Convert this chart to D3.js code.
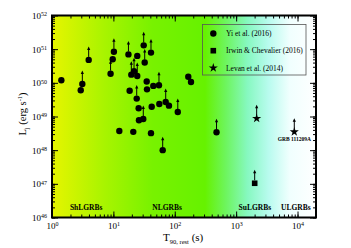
<!DOCTYPE html>
<html>
<head>
<meta charset="utf-8">
<script src="https://cdn.jsdelivr.net/npm/d3@7"></script>
<style>
  body { margin: 0; background: #fff; }
  svg { display: block; font-family: "Liberation Serif", "Times New Roman", serif; }
  .tick line { stroke: #000; }
  .domain { display: none; }
</style>
</head>
<body>
<svg width="351" height="248"></svg>
<script>
// Yi et al. (2016) sample: rest frame T90 (s), jet luminosity (erg/s), lower limit flag
var yiT = [1.42, 3.12, 2.94, 3.96, 9.0, 9.75, 10.2, 17.6, 24.5, 31.2, 41.0, 32.4,
           21.7, 19.6, 24.5, 34.9, 44.7, 55.3, 35.3, 18.4, 24.0, 166, 184, 56,
           71.2, 80.5, 42.1, 25.8, 112, 30.7, 26.1, 12.5, 21.1, 41.0, 63.6, 479];
var yiL = [1.19e50, 9.2e49, 6.0e49, 4.8e50, 1.87e50, 5.0e50, 8.4e50, 7.0e50, 6.3e50, 1.3e51, 7.9e50, 4.0e50,
           2.2e50, 1.75e50, 1.6e50, 1.1e50, 8.1e49, 8.5e49, 6.4e49, 5.8e49, 3.4e49, 1.52e50, 1.06e50, 2.35e49,
           2.7e49, 2.1e49, 1.95e49, 1.75e49, 1.36e49, 8.4e48, 7.7e48, 3.7e48, 3.5e48, 3.2e48, 1.0e48, 3.4e48];
var yiLimit = [0, 1, 0, 1, 1, 0, 1, 1, 0, 1, 1, 1,
               1, 1, 1, 0, 0, 1, 0, 0, 1, 0, 0, 0,
               1, 0, 0, 0, 1, 1, 0, 0, 0, 0, 1, 1];

// Irwin & Chevalier (2016)
var irwinT = [2005];
var irwinL = [1.04e47];

// Levan et al. (2014)
var levanT = [2160, 8860];
var levanL = [8.8e48, 3.5e48];
var levanNames = ["", "GRB 111209A"];

var classNames = ["ShLGRBs", "NLGRBs", "SuLGRBs", "ULGRBs"];
var classT = [3.6, 75, 2020, 9400];

var xTicks = [1, 10, 100, 1000, 10000];
var yTicks = [1e46, 1e47, 1e48, 1e49, 1e50, 1e51, 1e52];
var legendNames = ["Yi et al. (2016)", "Irwin & Chevalier (2016)", "Levan et al. (2014)"];

var svg = d3.select("svg");
var pLeft = 52, pRight = 316, pTop = 15.5, pBottom = 217.5;

var x = d3.scaleLog().domain([1, 2e4]).range([pLeft, pRight]);
var y = d3.scaleLog().domain([1e46, 1e52]).range([pBottom, pTop]);

// background gradient
var grad = svg.append("defs").append("linearGradient")
    .attr("id", "bg").attr("gradientUnits", "userSpaceOnUse")
    .attr("x1", pLeft).attr("x2", pRight).attr("y1", 0).attr("y2", 0);
[[0, "#e6f500"], [0.2, "#a8f400"], [0.38, "#78f200"], [0.58, "#66f200"],
 [0.66, "#6ef560"], [0.74, "#86f8c0"], [0.82, "#b8fbee"], [0.9, "#f0fffe"], [1, "#ffffff"]]
  .forEach(function(s) {
    grad.append("stop").attr("offset", s[0]).attr("stop-color", s[1]);
  });

svg.append("rect")
    .attr("x", pLeft).attr("y", pTop)
    .attr("width", pRight - pLeft).attr("height", pBottom - pTop)
    .attr("fill", "url(#bg)");

// minor + major ticks for a log axis
function logTicks(dom) {
  var out = [];
  for (var e = Math.floor(Math.log10(dom[0])); e <= Math.ceil(Math.log10(dom[1])); e++) {
    for (var m = 1; m < 10; m++) {
      var v = m * Math.pow(10, e);
      if (v >= dom[0] && v <= dom[1]) out.push(v);
    }
  }
  return out;
}
var xMinor = logTicks(x.domain()), yMinor = logTicks(y.domain());

function sup(sel) {
  // turn "10" labels into 10^n with superscript
  sel.selectAll("text").each(function(d) {
    var t = d3.select(this).text("");
    t.append("tspan").text("10");
    t.append("tspan").attr("dy", "-0.45em").attr("font-size", "6px")
      .text(Math.round(Math.log10(d)));
  });
}

var gx = svg.append("g").attr("transform", "translate(0," + pBottom + ")");
gx.call(d3.axisBottom(x).tickValues(xMinor).tickSize(-3).tickFormat(""));
var gxMaj = svg.append("g").attr("transform", "translate(0," + pBottom + ")")
    .call(d3.axisBottom(x).tickValues(xTicks).tickSize(-6).tickPadding(5));
gxMaj.selectAll("text").attr("font-size", "9px").attr("fill", "#000")
    .attr("font-family", "Liberation Serif");
sup(gxMaj);

svg.append("g").attr("transform", "translate(0," + pTop + ")")
    .call(d3.axisTop(x).tickValues(xMinor).tickSize(-3).tickFormat(""));
svg.append("g").attr("transform", "translate(0," + pTop + ")")
    .call(d3.axisTop(x).tickValues(xTicks).tickSize(-6).tickFormat(""));

svg.append("g").attr("transform", "translate(" + pLeft + ",0)")
    .call(d3.axisLeft(y).tickValues(yMinor).tickSize(-3).tickFormat(""));
var gyMaj = svg.append("g").attr("transform", "translate(" + pLeft + ",0)")
    .call(d3.axisLeft(y).tickValues(yTicks).tickSize(-6).tickPadding(5));
gyMaj.selectAll("text").attr("font-size", "9px").attr("fill", "#000")
    .attr("font-family", "Liberation Serif");
sup(gyMaj);

svg.append("g").attr("transform", "translate(" + pRight + ",0)")
    .call(d3.axisRight(y).tickValues(yMinor).tickSize(-3).tickFormat(""));
svg.append("g").attr("transform", "translate(" + pRight + ",0)")
    .call(d3.axisRight(y).tickValues(yTicks).tickSize(-6).tickFormat(""));

// frame
svg.append("rect")
    .attr("x", pLeft).attr("y", pTop)
    .attr("width", pRight - pLeft).attr("height", pBottom - pTop)
    .attr("fill", "none").attr("stroke", "#000").attr("stroke-width", 2);

// lower limit arrows
function arrow(g, cx, cy) {
  g.append("line").attr("x1", cx).attr("x2", cx).attr("y1", cy - 3).attr("y2", cy - 11)
    .attr("stroke", "#000").attr("stroke-width", 1);
  g.append("path").attr("d", "M" + (cx - 1.6) + "," + (cy - 10) + "L" + cx + "," + (cy - 13.5) +
      "L" + (cx + 1.6) + "," + (cy - 10) + "Z").attr("fill", "#000");
}

var marks = svg.append("g");
yiT.forEach(function(t, i) {
  var cx = x(t), cy = y(yiL[i]);
  if (yiLimit[i]) arrow(marks, cx, cy);
  marks.append("circle").attr("cx", cx).attr("cy", cy).attr("r", 3.2).attr("fill", "#000");
});

irwinT.forEach(function(t, i) {
  var cx = x(t), cy = y(irwinL[i]);
  arrow(marks, cx, cy);
  marks.append("rect").attr("x", cx - 2.8).attr("y", cy - 2.8)
    .attr("width", 5.6).attr("height", 5.6).attr("fill", "#000");
});

var star = d3.symbol().type(d3.symbolStar).size(26);
levanT.forEach(function(t, i) {
  var cx = x(t), cy = y(levanL[i]);
  arrow(marks, cx, cy);
  marks.append("path").attr("d", star()).attr("transform", "translate(" + cx + "," + cy + ")")
    .attr("fill", "#000");
  if (levanNames[i]) {
    marks.append("text").attr("x", cx).attr("y", cy + 9.5)
      .attr("text-anchor", "middle").attr("font-size", "5.5px").attr("font-weight", "bold")
      .attr("fill", "#000")
      .text(levanNames[i]);
  }
});

// class labels along the bottom
svg.append("g").selectAll("text").data(classNames).join("text")
    .attr("x", function(d, i) { return x(classT[i]); })
    .attr("y", 210)
    .attr("text-anchor", "middle")
    .attr("font-size", "7.5px").attr("font-weight", "bold")
    .text(function(d) { return d; });

// legend
var lg = svg.append("g");
lg.append("rect").attr("x", 202.5).attr("y", 24.5).attr("width", 103.5).attr("height", 50.5)
  .attr("fill", "none").attr("stroke", "#555").attr("stroke-width", 0.8);
legendNames.forEach(function(name, i) {
  var ly = 33.5 + i * 17.2;
  if (i === 0) lg.append("circle").attr("cx", 213.3).attr("cy", ly).attr("r", 3.2);
  if (i === 1) lg.append("rect").attr("x", 210.5).attr("y", ly - 2.8).attr("width", 5.6).attr("height", 5.6);
  if (i === 2) lg.append("path").attr("d", star()).attr("transform", "translate(213.3," + ly + ")");
  lg.append("text").attr("x", 226).attr("y", ly + 2.6).attr("font-size", "7.5px").text(name);
});

// axis titles
var xt = svg.append("text").attr("x", 163).attr("y", 241).attr("font-size", "11px");
xt.append("tspan").text("T");
xt.append("tspan").attr("dy", 3).attr("font-size", "6.5px").text("90, rest");
xt.append("tspan").attr("dy", -3).text(" (s)");

var yt = svg.append("text").attr("transform", "translate(26,114) rotate(-90)")
    .attr("text-anchor", "middle").attr("font-size", "10.5px");
yt.append("tspan").text("L");
yt.append("tspan").attr("dy", 3).attr("font-size", "6.5px").text("j");
yt.append("tspan").attr("dy", -3).text(" (erg s");
yt.append("tspan").attr("dy", -4).attr("font-size", "6.5px").text("-1");
yt.append("tspan").attr("dy", 4).text(")");
</script>
</body>
</html>
